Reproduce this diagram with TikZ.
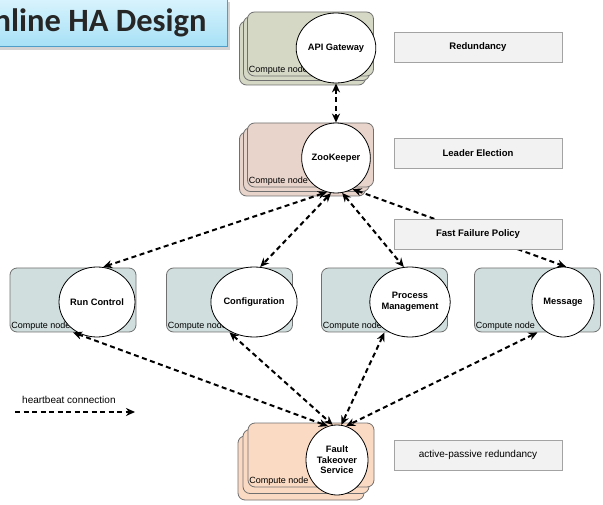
\documentclass[tikz,border=0pt]{standalone}
\usepackage{fontspec}
\setmainfont{Liberation Sans}
\newfontfamily\titlefont{Carlito}
\usetikzlibrary{arrows.meta, positioning, shapes.geometric, shadows}
\definecolor{cgw}{HTML}{D6D8C6}
\definecolor{czk}{HTML}{E8D4CB}
\definecolor{crow}{HTML}{D0DEDD}
\definecolor{cft}{HTML}{FADAC2}
\definecolor{cedge}{HTML}{707070}
\definecolor{cnote}{HTML}{A3A3A3}
\definecolor{cnotefill}{HTML}{F2F2F2}
\definecolor{ctitle}{HTML}{4F9DC9}
\definecolor{ctop}{HTML}{D8F3FD}
\definecolor{cbot}{HTML}{A6E0F6}
\tikzset{
  every picture/.style={font=\fontsize{9}{10}\selectfont},
  cnode/.style={draw=cedge, fill=#1, rounded corners=7pt, minimum width=126pt, minimum height=64pt, line width=0.8pt},
  svc/.style={ellipse, draw=black, fill=white, minimum width=62pt, minimum height=70pt, inner sep=0pt, align=center, font=\bfseries\fontsize{9.3}{10.5}\selectfont, line width=0.8pt},
  tag/.style={font=\fontsize{9}{10}\selectfont, anchor=south west, inner sep=1.5pt},
  note/.style={draw=cnote, fill=cnotefill, minimum width=168pt, minimum height=30pt, font=\bfseries\fontsize{9.5}{11}\selectfont, line width=0.8pt},
  hb/.style={{Stealth[length=9pt,width=8pt]}-{Stealth[length=9pt,width=8pt]}, dash pattern=on 5pt off 3.5pt, line width=2pt},
  hbone/.style={-{Stealth[length=9pt,width=8pt]}, dash pattern=on 5pt off 3.5pt, line width=2pt},
  titlebox/.style={draw=ctitle, line width=1pt, top color=ctop, bottom color=cbot, minimum height=48pt, inner xsep=21pt, drop shadow={shadow xshift=2.5pt, shadow yshift=-3pt, opacity=0.35}, font=\titlefont\bfseries\fontsize{32.5}{34}\selectfont, text=black!85},
}

\begin{document}
\begin{tikzpicture}[x=1pt, y=-1pt]
  \clip (0,0) rectangle (603,505);
  % title
  \node[titlebox, anchor=east] (title) at (228,23) {Online HA Design};
  % stacked compute nodes
  \foreach \k in {2,1} {
    \node[cnode=cgw, xshift={-\k*4pt}, yshift={-\k*4.5pt}] at (310.5,44) {};
    \node[cnode=czk, xshift={-\k*4pt}, yshift={-\k*4.5pt}] at (310.5,155) {};
    \node[cnode=cft, xshift={-\k*5pt}, yshift={-\k*6.5pt}] at (311,455) {};
  }
  \node[cnode=cgw] (gwbox) at (310.5,44) {};
  \node[cnode=czk] (zkbox) at (310.5,155) {};
  \node[cnode=cft] (ftbox) at (311,455) {};
  \node[cnode=crow] (rcbox) at (73,300) {};
  \node[cnode=crow] (cfgbox) at (229.5,300) {};
  \node[cnode=crow] (pmbox) at (384.5,300) {};
  \node[cnode=crow] (msgbox) at (537.5,300) {};
  \foreach \b in {gwbox, zkbox, ftbox, rcbox, cfgbox, pmbox, msgbox}
    \node[tag] at (\b.south west) {Compute node};
  % services
  \node[svc] (gw) at (336,48) {API Gateway};
  \node[svc] (zk) at (336,158) {ZooKeeper};
  \node[svc] (rc) at (97,302) {Run Control};
  \node[svc] (cfg) at (254,302) {Configuration};
  \node[svc] (pm) at (410,302) {Process\\Management};
  \node[svc] (msg) at (563,302) {Message};
  \node[svc] (ft) at (337,460) {Fault\\Takeover\\Service};
  % heartbeats
  \draw[hb] (gw.south) -- (zk.north);
  \draw[hb] (zk.-105) -- (rc.80);
  \draw[hb] (zk.-98) -- (cfg.80);
  \draw[hb] (zk.-80) -- (pm.100);
  \draw[hb] (zk.-62) -- (msg.85);
  \draw[hb] (rcbox.south) -- (ft.105);
  \draw[hb] (cfgbox.south) -- (ft.97);
  \draw[hb] (pmbox.south) -- (ft.83);
  \draw[hb] (msgbox.south) -- (ft.75);
  % notes
  \node[note] (red) at (478,47) {Redundancy};
  \node[note] (lead) at (478,153) {Leader Election};
  \node[note] (fast) at (478,234.5) {Fast Failure Policy};
  \node[note, font=\fontsize{10}{11}\selectfont] (apr) at (478,455) {active-passive redundancy};
  % legend
  \node[font=\fontsize{10}{11}\selectfont, anchor=west, inner sep=0pt] (hblabel) at (22,400) {heartbeat connection};
  \coordinate (hbs) at (15,412);
  \coordinate (hbe) at (135,412);
  \draw[hbone] (hbs) -- (hbe);
\end{tikzpicture}
\end{document}
